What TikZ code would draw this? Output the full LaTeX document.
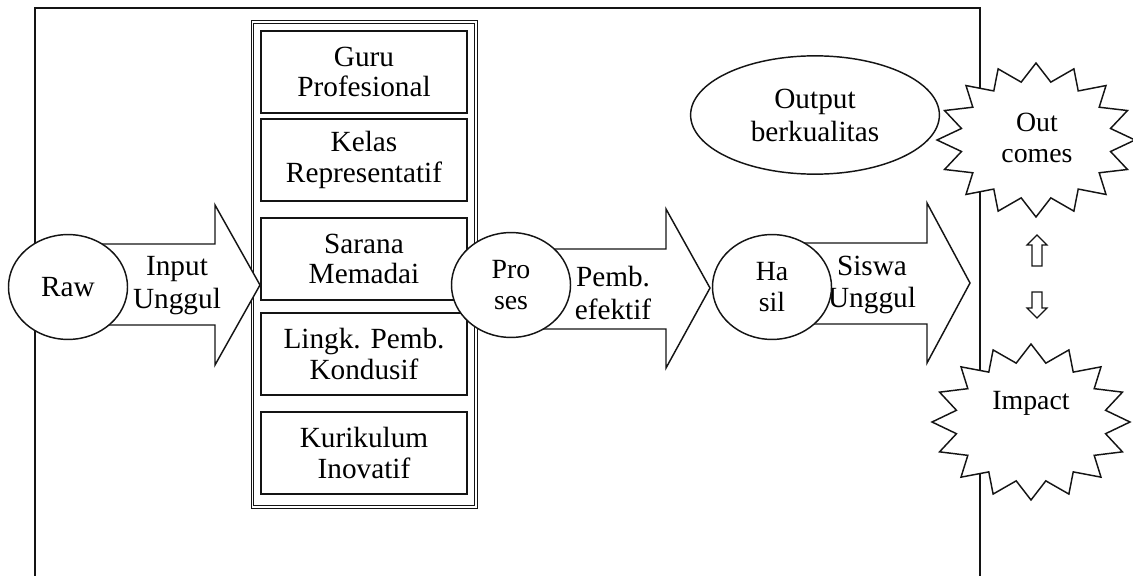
\documentclass[tikz,border=0pt]{standalone}
\usepackage{fontspec}
\setmainfont{Liberation Serif}
\usetikzlibrary{positioning,shapes.geometric}
\definecolor{lineblack}{RGB}{20,20,20}

\tikzset{
  factorbox/.style={draw=lineblack,line width=0.6pt,minimum width=84.5pt,minimum height=33.5pt,
    inner sep=0pt,align=center,font=\fontsize{12}{12.5}\selectfont},
  blob/.style={ellipse,draw=lineblack,fill=white,line width=0.6pt,minimum width=48.8pt,
    minimum height=43pt,inner sep=0pt,align=center},
  blockarrow/.style={draw=lineblack,fill=white,line width=0.6pt,line join=miter},
  burst/.style={draw=lineblack,fill=white,line width=0.6pt,line join=miter},
  arrowtext/.style={align=center,font=\fontsize{12}{13.5}\selectfont},
  smalltext/.style={align=center,font=\fontsize{11.4}{12.8}\selectfont}
}

\begin{document}
\begin{tikzpicture}[x=0.41pt,y=-0.41pt,font=\fontsize{12}{13}\selectfont]
\useasboundingbox (0,0) rectangle (1133,576);
% outer frame, open at the bottom
\draw[lineblack,line width=0.6pt] (35,576) -- (35,8) -- (980,8) -- (980,576);
% column of supporting factors
\draw[lineblack,line width=0.4pt,double,double distance=0.8pt] (252.5,22) rectangle (476,507);
\node[factorbox] (guru) at (364,72) {Guru\\Profesional};
\node[factorbox] (kelas) at (364,160) {Kelas\\Representatif};
\node[factorbox] (sarana) at (364,259) {Sarana\\Memadai};
\node[factorbox] (lingk) at (364,354) {Lingk. Pemb.\\Kondusif};
\node[factorbox] (kurikulum) at (364,453) {Kurikulum\\Inovatif};
% block arrows
\draw[blockarrow] (90,244) -- (215,244) -- (215,205) -- (260,285) -- (215,365) -- (215,325) -- (90,325) -- cycle;
\draw[blockarrow] (530,249) -- (666,249) -- (666,209) -- (710,288) -- (666,368) -- (666,329) -- (530,329) -- cycle;
\draw[blockarrow] (790,243) -- (927,243) -- (927,203) -- (970,283) -- (927,363) -- (927,324) -- (790,324) -- cycle;
\node[arrowtext] (input) at (177,286) {Input\\Unggul};
\node[arrowtext] (pemb) at (613,293) {Pemb.\\efektif};
\node[arrowtext] (siswa) at (872,285) {Siswa\\Unggul};
% stages
\node[blob] (raw) at (68,287) {Raw};
\node[blob,font=\fontsize{11.4}{12.8}\selectfont] (proses) at (511,285) {Pro\\ses};
\node[blob,font=\fontsize{11.4}{12.8}\selectfont] (hasil) at (772,287) {Ha\\sil};
\node[blob,minimum width=102pt,minimum height=48.5pt,font=\fontsize{12}{13.5}\selectfont] (output) at (815,115) {Output\\berkualitas};
% bursts
\draw[burst] plot[samples at={0,...,31},variable=\k]
  ({1036+(iseven(\k)?99:76)*sin(\k*11.25)},{140-(iseven(\k)?77:59)*cos(\k*11.25)}) -- cycle;
\node[smalltext] (outcomes) at (1037,138) {Out\\comes};
\draw[burst] plot[samples at={0,...,31},variable=\k]
  ({1031+(iseven(\k)?99:76)*sin(\k*11.25)},{422-(iseven(\k)?78:60)*cos(\k*11.25)}) -- cycle;
\node[smalltext] (impact) at (1031,403) {Impact};
% hollow up and down arrows
\draw[lineblack,line width=0.5pt] (1032,266) -- (1032,245) -- (1027,245) -- (1037,235) -- (1047,245) -- (1042,245) -- (1042,266) -- cycle;
\draw[lineblack,line width=0.5pt] (1032,292) -- (1042,292) -- (1042,308) -- (1047,308) -- (1037,318) -- (1027,308) -- (1032,308) -- cycle;
\end{tikzpicture}
\end{document}
